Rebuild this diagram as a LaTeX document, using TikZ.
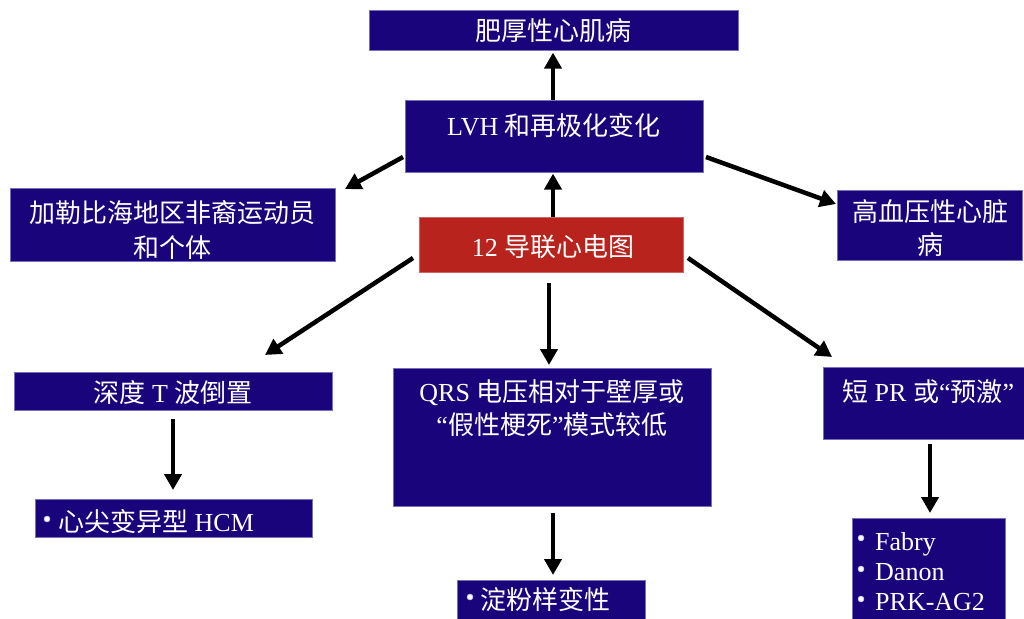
\documentclass[tikz,border=0pt]{standalone}
\usepackage{fontspec}
\setmainfont{Liberation Serif}
\newfontfamily\cjk{Noto Sans CJK SC}
\usetikzlibrary{arrows.meta}
\newcommand\zh[1]{{\cjk #1}}
\definecolor{navy}{RGB}{26,4,124}
\definecolor{navyedge}{RGB}{120,110,190}
\definecolor{ecgred}{RGB}{184,35,30}
\tikzset{
  box/.style={fill=navy, draw=navyedge, line width=0.6pt, inner sep=0pt, anchor=north west},
  redbox/.style={fill=ecgred, draw=ecgred!70!white, line width=0.6pt, inner sep=0pt, anchor=north west},
  txt/.style={text=white, inner sep=0pt, font=\fontsize{26}{30}\selectfont},
  arr/.style={line width=4.5pt, -{Triangle[length=16pt,width=17pt]}},
  bul/.style={fill=white, draw=white!80!navy, line width=0.8pt}
}
\begin{document}
\begin{tikzpicture}[x=1pt,y=-1pt]
\useasboundingbox[fill=white] (0,0) rectangle (1024,618);
% boxes
\node[box, minimum width=369pt, minimum height=40pt] (hcm) at (369,10) {};
\node[box, minimum width=298pt, minimum height=72pt] (lvh) at (405,100) {};
\node[redbox, minimum width=264pt, minimum height=55pt] (ecg) at (419,217) {};
\node[box, minimum width=325pt, minimum height=73pt] (afr) at (10,188) {};
\node[box, minimum width=185pt, minimum height=70pt] (htn) at (837,190) {};
\node[box, minimum width=318pt, minimum height=38pt] (twi) at (14,372) {};
\node[box, minimum width=277pt, minimum height=38pt] (apx) at (35,499) {};
\node[box, minimum width=318pt, minimum height=138pt] (qrs) at (393,368) {};
\node[box, minimum width=188pt, minimum height=42pt] (amy) at (457,580) {};
\node[box, minimum width=205pt, minimum height=72pt] (spr) at (823,367) {};
\node[box, minimum width=153pt, minimum height=104pt] (fab) at (852,518) {};
% texts
\node[txt] (hcmT) at (553,31) {\zh{肥厚性心肌病}};
\node[txt] (lvhT) at (554,126) {LVH \zh{和再极化变化}};
\node[txt] (ecgT) at (553,247) {12 \zh{导联心电图}};
\node[txt, align=center, font=\fontsize{26}{35}\selectfont] (afrT) at (172,230) {\zh{加勒比海地区非裔运动员}\\\zh{和个体}};
\node[txt, align=center, font=\fontsize{26}{33}\selectfont] (htnT) at (930,228) {\zh{高血压性心脏}\\\zh{病}};
\node[txt] (twiT) at (173,393) {\zh{深度} T \zh{波倒置}};
\node[txt, anchor=west] (apxT) at (58,522) {\zh{心尖变异型} HCM};
\node[txt, align=center, font=\fontsize{26}{33}\selectfont] (qrsT) at (552,408) {QRS \zh{电压相对于壁厚或}\\“\zh{假性梗死}”\zh{模式较低}};
\node[txt, anchor=west] (amyT) at (480,600) {\zh{淀粉样变性}};
\node[txt, anchor=west] (sprT) at (842,392) {\zh{短} PR \zh{或}“\zh{预激}”};
\node[txt, anchor=west, align=left, font=\fontsize{26}{30}\selectfont] (fabT) at (875,572) {Fabry\\Danon\\PRK-AG2};
% bullets
\fill[bul] (47,519) circle (2.8pt);
\fill[bul] (470,597) circle (2.8pt);
\fill[bul] (861,538) circle (2.8pt);
\fill[bul] (861,569) circle (2.8pt);
\fill[bul] (861,599) circle (2.8pt);
% arrow end points
\coordinate (a3s) at (403,157); \coordinate (a3e) at (345,189);
\coordinate (a4s) at (706,157); \coordinate (a4e) at (836,204);
\coordinate (a5s) at (413,258); \coordinate (a5e) at (265,355);
\coordinate (a7s) at (688,258); \coordinate (a7e) at (832,357);
% arrows
\draw[arr, shorten >=2pt] (lvh.north -| 553,0) -- (hcm.south -| 553,0);
\draw[arr, shorten >=1pt] (ecg.north -| 553,0) -- (lvh.south -| 553,0);
\draw[arr] (a3s) -- (a3e);
\draw[arr] (a4s) -- (a4e);
\draw[arr] (a5s) -- (a5e);
\draw[arr, shorten <=10pt, shorten >=3pt] (ecg.south -| 549,0) -- (qrs.north -| 549,0);
\draw[arr] (a7s) -- (a7e);
\draw[arr, shorten <=8pt, shorten >=9pt] (twi.south -| 173,0) -- (apx.north -| 173,0);
\draw[arr, shorten <=6pt, shorten >=5pt] (qrs.south -| 553,0) -- (amy.north -| 553,0);
\draw[arr, shorten <=4pt, shorten >=5pt] (spr.south -| 930,0) -- (fab.north -| 930,0);
\end{tikzpicture}
\end{document}
